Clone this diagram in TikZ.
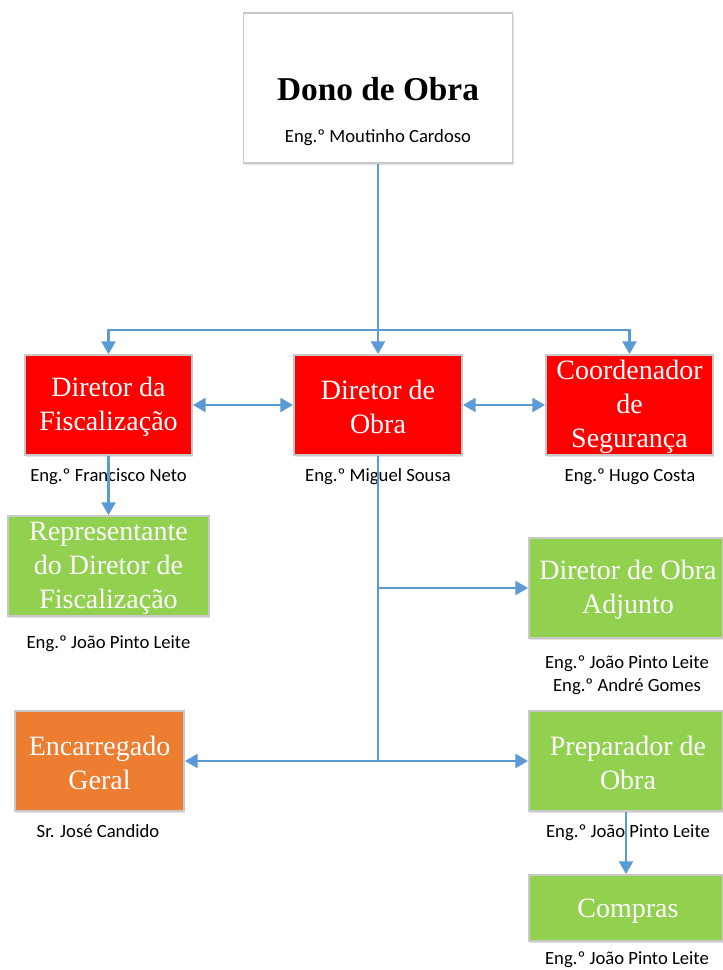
\documentclass[tikz,border=0pt]{standalone}
\usepackage{fontspec}
\setmainfont{Liberation Serif}
\newfontfamily\lblfont{Carlito}
\usetikzlibrary{arrows.meta,shadows}
\definecolor{conncol}{HTML}{5B9BD5}
\definecolor{redbox}{HTML}{FF0000}
\definecolor{greenbox}{HTML}{92D050}
\definecolor{orangebox}{HTML}{ED7D31}
\definecolor{edgegray}{HTML}{C9C9C9}
\tikzset{
  orgbox/.style={draw=edgegray, line width=1.4pt, text=white, align=center,
    font=\fontsize{21}{25.5}\selectfont, inner sep=0pt,
    drop shadow={shadow xshift=0.8pt, shadow yshift=-1.8pt, opacity=0.18, fill=black!60}},
  redstyle/.style={orgbox, fill=redbox},
  greenstyle/.style={orgbox, fill=greenbox},
  orangestyle/.style={orgbox, fill=orangebox},
  boxtext/.style={text=white, align=center, font=\fontsize{21}{25.5}\selectfont, inner sep=0pt},
  lbl/.style={font=\lblfont\fontsize{14}{17.5}\selectfont, text=black, align=center, inner sep=0pt},
  conn/.style={draw=conncol, line width=1.6pt},
  arr/.style={-{Triangle[length=9.5pt,width=10.5pt]}},
  arrtwo/.style={{Triangle[length=9.5pt,width=10.5pt]}-{Triangle[length=9.5pt,width=10.5pt]}}
}
\begin{document}
\begin{tikzpicture}[x=0.75pt,y=-0.75pt]
\useasboundingbox[fill=white] (0,0) rectangle (723,970);

% boxes
\node[draw=edgegray, line width=1.4pt, fill=white, minimum width=269*0.75pt, minimum height=150*0.75pt,
  drop shadow={shadow xshift=0.8pt, shadow yshift=-1.8pt, opacity=0.18, fill=black!60}] (dono) at (378,88) {};
\node[font=\fontsize{25}{30}\selectfont\bfseries, inner sep=0pt] (donot) at (378,89) {Dono de Obra};
\node[lbl] (donol) at (378,138) {Eng.º Moutinho Cardoso};

\node[redstyle, minimum width=167*0.75pt, minimum height=100*0.75pt] (fisc) at (108.5,405) {};
\node[boxtext] (fisct) at (108.5,407) {Diretor da\\Fiscalização};
\node[redstyle, minimum width=168*0.75pt, minimum height=100*0.75pt] (obra) at (378,405) {};
\node[boxtext] (obrat) at (378,407) {Diretor de\\Obra};
\node[redstyle, minimum width=167*0.75pt, minimum height=100*0.75pt] (coord) at (629.5,405) {};
\node[boxtext] (coordt) at (629.5,407) {Coordenador\\de\\Segurança};

\node[lbl] (fiscl) at (108.5,477) {Eng.º Francisco Neto};
\node[lbl] (obral) at (378,477) {Eng.º Miguel Sousa};
\node[lbl] (coordl) at (630,477) {Eng.º Hugo Costa};

\node[greenstyle, minimum width=201*0.75pt, minimum height=100*0.75pt] (rep) at (108.5,566) {};
\node[boxtext] (rept) at (108.5,568) {Representante\\do Diretor de\\Fiscalização};
\node[lbl] (repl) at (108.5,644) {Eng.º João Pinto Leite};

\node[greenstyle, minimum width=194*0.75pt, minimum height=100*0.75pt] (adj) at (626,588) {};
\node[boxtext] (adjt) at (628,590) {Diretor de Obra\\Adjunto};
\node[lbl] (adjl) at (627,675) {Eng.º João Pinto Leite\\Eng.º André Gomes};

\node[orangestyle, minimum width=169*0.75pt, minimum height=100*0.75pt] (enc) at (99.5,761) {};
\node[boxtext] (enct) at (99.5,763) {Encarregado\\Geral};
\node[lbl] (encl) at (98,831) {Sr. José Candido};

\node[greenstyle, minimum width=194*0.75pt, minimum height=100*0.75pt] (prep) at (626,761) {};
\node[boxtext] (prept) at (628,763) {Preparador de\\Obra};
\node[lbl] (prepl) at (628,833) {Eng.º João Pinto Leite};

\node[greenstyle, minimum width=194*0.75pt, minimum height=66*0.75pt] (comp) at (626,908) {};
\node[boxtext] (compt) at (628,911) {Compras};
\node[lbl] (compl) at (627,960) {Eng.º João Pinto Leite};

% connectors
\coordinate (j1) at (378,330);
\draw[conn] (dono.south) -- (j1);
\draw[conn,arr] (j1) -| (fisc.north);
\draw[conn,arr] (j1) -| (coord.north);
\draw[conn,arr] (j1) -- (obra.north);
\draw[conn,arrtwo] (fisc.east) -- (obra.west);
\draw[conn,arrtwo] (obra.east) -- (coord.west);
\draw[conn,arr] (fisc.south) -- (rep.north);

\coordinate (j2) at (378,588);
\coordinate (j3) at (378,761);
\draw[conn] (obra.south) -- (j3);
\draw[conn,arr] (j2) -- (adj.west);
\draw[conn,arr] (j3) -- (enc.east);
\draw[conn,arr] (j3) -- (prep.west);
\draw[conn,arr] (prep.south) -- (comp.north);
\end{tikzpicture}
\end{document}
